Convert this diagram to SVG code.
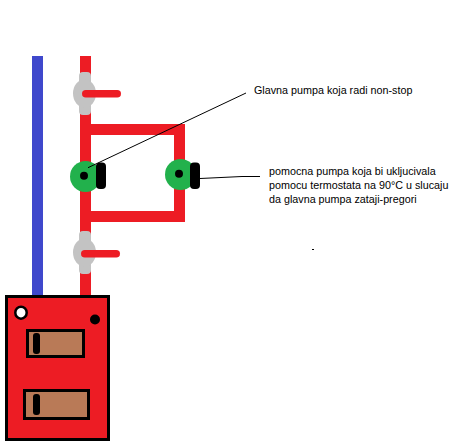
<svg xmlns="http://www.w3.org/2000/svg" width="452" height="446" viewBox="0 0 452 446">
<style>
.pipe{fill:#ed1c24}
.blue{fill:#3f48cc}
.grey{fill:#c3c3c3}
.green{fill:#22b14c}
.blk{fill:#000}
.door{fill:#b97a57;stroke:#000;stroke-width:3}
.lead{fill:none;stroke:#000;stroke-width:1}
text{font-family:"Liberation Sans",Arial,sans-serif;font-size:10.75px;fill:#000}
</style>
<rect width="452" height="446" fill="#fff"/>
<g id="pipes">
<rect id="pipe-blue" class="blue" x="32" y="56" width="11" height="240"/>
<rect id="pipe-red" class="pipe" x="80" y="56" width="11" height="240"/>
<path id="bypass" class="pipe" d="M91 124H185V222H91V211H174V135H91Z"/>
</g>
<g id="valve-top">
<rect class="grey" x="79" y="72" width="12" height="43" rx="4"/>
<ellipse class="grey" cx="84.500" cy="93.500" rx="11.500" ry="14"/>
<rect class="pipe" x="82" y="90" width="39" height="7.500" rx="3.750"/>
</g>
<g id="valve-bottom">
<rect class="grey" x="79" y="231" width="12" height="43" rx="4"/>
<ellipse class="grey" cx="84.500" cy="252.500" rx="11.500" ry="14"/>
<rect class="pipe" x="81" y="250" width="39" height="7.500" rx="3.750"/>
</g>
<g id="pump-main">
<circle class="green" cx="85.500" cy="176.500" r="15.500"/>
<circle class="blk" cx="84" cy="175.700" r="4"/>
<rect class="blk" x="96" y="162.500" width="10" height="26.500" rx="4"/>
</g>
<g id="pump-backup">
<circle class="green" cx="180.500" cy="174.500" r="15.500"/>
<circle class="blk" cx="179" cy="173.700" r="4"/>
<rect class="blk" x="190" y="162.500" width="10" height="26.500" rx="4"/>
</g>
<g id="boiler">
<rect x="6.500" y="296.500" width="102" height="143" fill="#ed1c24" stroke="#000" stroke-width="3"/>
<ellipse cx="21" cy="312.700" rx="5.700" ry="6" fill="#fff" stroke="#000" stroke-width="2.500"/>
<circle class="blk" cx="95" cy="319.500" r="5"/>
<rect class="door" x="27.500" y="330.500" width="56" height="26"/>
<rect class="blk" x="33" y="333" width="7" height="21" rx="3"/>
<rect class="door" x="24.500" y="390.500" width="64" height="28"/>
<rect class="blk" x="33" y="394" width="7" height="21" rx="3"/>
</g>
<g id="connectors">
<path class="lead" d="M88 167.700L246 93"/>
<path class="lead" d="M200 178.500L242 176.500H260"/>
<path class="lead" d="M312 249.500H314"/>
</g>
<g id="label-main"><text x="254" y="94">Glavna pumpa koja radi non-stop</text></g>
<g id="label-backup">
<text x="269" y="175">pomocna pumpa koja bi ukljucivala</text>
<text x="269" y="189">pomocu termostata na 90°C u slucaju</text>
<text x="269" y="203">da glavna pumpa zataji-pregori</text>
</g>
</svg>
